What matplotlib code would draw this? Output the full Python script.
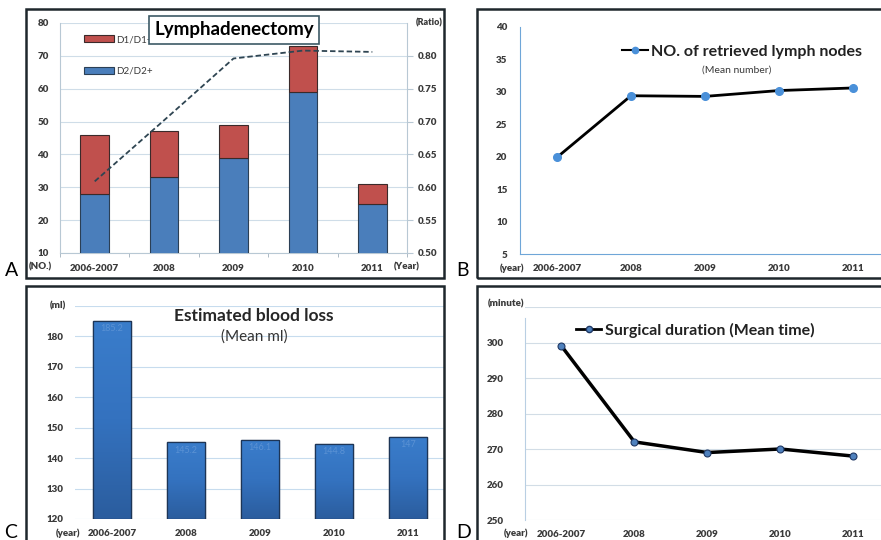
import numpy as np
import matplotlib
matplotlib.use("Agg")
import matplotlib.pyplot as plt
from matplotlib.patches import Rectangle, Patch
from matplotlib.lines import Line2D

plt.rcParams['font.family'] = ['Lato', 'DejaVu Sans']

# data
years = ["2006-2007", "2008", "2009", "2010", "2011"]
d2 = [28, 33, 39, 59, 25]          # D2/D2+ cases
d1 = [18, 14, 10, 14, 6]           # D1/D1+ cases
ratio = [0.609, 0.702, 0.796, 0.808, 0.806]
lymph_nodes = [19.9, 29.4, 29.3, 30.2, 30.6]
blood_loss = [185.2, 145.2, 146.1, 144.8, 147]
blood_labels = ["185.2", "145.2", "146.1", "144.8", "147"]
duration = [299, 272, 269, 270, 268]

W, H = 881, 540
fig = plt.figure(figsize=(W / 100, H / 100), dpi=100)
fig.patch.set_facecolor('white')

TXT = '#3a3a3a'
GRID = '#cfdde8'
AXBLUE = '#6fa6d8'
TS = 7


def rect(x0, y0, x1, y1):
    return [x0 / W, 1 - y1 / H, (x1 - x0) / W, (y1 - y0) / H]


def ftext(x, y, s, **kw):
    fig.text(x / W, 1 - y / H, s, **kw)


def frame(x0, y0, x1, y1):
    fig.add_artist(Rectangle((x0 / W, 1 - y1 / H), (x1 - x0) / W, (y1 - y0) / H,
                             transform=fig.transFigure, fill=False, lw=1.8,
                             ec='#1e272c', zorder=10))


def bold_ticks(ax, size=TS):
    ax.tick_params(labelsize=size, labelcolor=TXT)
    for t in ax.get_xticklabels() + ax.get_yticklabels():
        t.set_fontweight('heavy')


frame(26, 9, 444, 278)
frame(477, 9, 900, 278)
frame(26, 286, 444, 560)
frame(477, 286, 900, 560)

x = np.arange(len(years))

# ---------------- A: lymphadenectomy ----------------
a = fig.add_axes(rect(60, 23, 407, 253))
a.set_facecolor('none')
a.bar(x, d2, width=0.41, color='#4a7ebb', edgecolor='#2b3f55', lw=0.8, zorder=3)
a.bar(x, d1, width=0.41, bottom=d2, color='#c0504d', edgecolor='#3a2a2a', lw=0.8, zorder=3)
a.set_ylim(10, 80)
a.set_xlim(-0.5, 4.5)
a.set_yticks(range(10, 81, 10))
a.yaxis.grid(True, color=GRID, lw=0.8, zorder=0)
a.set_xticks(x)
a.set_xticklabels(years)
a.set_xticks(np.arange(-0.5, 5, 1), minor=True)
a.tick_params(axis='x', which='major', length=0, pad=8)
a.tick_params(axis='x', which='minor', length=3, color='#a0b0bc')
a.tick_params(axis='y', length=0, pad=8)
for s in ['top', 'right']:
    a.spines[s].set_visible(False)
a.spines['left'].set_color('#b8c8d4')
a.spines['bottom'].set_color('#b8c8d4')
bold_ticks(a)
a.legend(handles=[Patch(fc='#c0504d', ec='#3a2a2a', lw=0.8, label='D1/D1+'),
                  Patch(fc='#4a7ebb', ec='#2b3f55', lw=0.8, label='D2/D2+')],
         loc='upper left', bbox_to_anchor=(0.045, 0.985), frameon=False,
         fontsize=7, handlelength=3.0, handleheight=0.7, labelspacing=2.3,
         handletextpad=0.3, labelcolor=TXT)
a2 = a.twinx()
a2.plot(x, ratio, ls='--', color='#2f4552', lw=1.3, dashes=(3, 1.6), zorder=5)
a2.set_ylim(0.50, 0.85)
a2.set_yticks(np.arange(0.50, 0.801, 0.05))
a2.set_yticklabels(["%.2f" % v for v in np.arange(0.50, 0.801, 0.05)])
a2.tick_params(axis='y', length=4, color='#b8c8d4', pad=4)
for s in ['top', 'left', 'bottom']:
    a2.spines[s].set_visible(False)
a2.spines['right'].set_color('#b8c8d4')
bold_ticks(a2)
ftext(234, 30, "Lymphadenectomy", fontsize=13.5, fontweight='bold', ha='center', va='center',
      color='black', bbox=dict(boxstyle='square,pad=0.3', fc='white', ec='#3d5a66', lw=1.2), zorder=6)
ftext(29, 267, "(NO.)", fontsize=TS, fontweight='heavy', color=TXT, va='center')
ftext(394, 267, "(Year)", fontsize=TS, fontweight='heavy', color=TXT, va='center')
ftext(416, 23, "(Ratio)", fontsize=6.5, fontweight='heavy', color=TXT, va='center')
ftext(5, 276, "A", fontsize=14, color='black', va='baseline')

# ---------------- B: retrieved lymph nodes ----------------
b = fig.add_axes(rect(520, 27, 881, 254))
b.set_facecolor('none')
b.plot(x, lymph_nodes, color='black', lw=2, marker='o', ms=5.5, mfc='#4a90d9', mec='#4a90d9',
       zorder=3)
b.set_ylim(5, 40)
b.set_xlim(-0.5, 4.38)
b.set_yticks(range(5, 41, 5))
b.set_xticks(x)
b.set_xticklabels(years)
b.tick_params(length=0)
b.tick_params(axis='x', pad=7)
b.tick_params(axis='y', pad=9)
for s in ['top', 'right']:
    b.spines[s].set_visible(False)
b.spines['left'].set_color(AXBLUE)
b.spines['bottom'].set_color(AXBLUE)
bold_ticks(b)
b.legend(handles=[Line2D([], [], color='black', lw=1.5, marker='o', ms=4.5, mfc='#4a90d9',
                         mec='#4a90d9', label='NO. of retrieved lymph nodes')],
         loc='center', bbox_to_anchor=((742 - 520) / 361, 1 - (52 - 27) / 227), frameon=False,
         prop=dict(size=11.5, weight='bold'), handlelength=1.6, handletextpad=0.2,
         labelcolor='#222222')
ftext(737, 70, "(Mean number)", fontsize=7.5, color=TXT, ha='center', va='center')
ftext(500, 268, "(year)", fontsize=TS, fontweight='heavy', color=TXT, va='center')
ftext(456, 276, "B", fontsize=14, color='black', va='baseline')

# ---------------- C: blood loss ----------------
c = fig.add_axes(rect(75, 306, 444, 519))
c.set_facecolor('none')
bars = c.bar(x, np.array(blood_loss) - 120, bottom=120, width=0.51, color='#2f6cb5',
             edgecolor='#1d3556', lw=0.9, zorder=3)
grad = np.linspace(0, 1, 100).reshape(-1, 1)
cmap = matplotlib.colors.LinearSegmentedColormap.from_list('g', ['#2b5d9e', '#3472bf', '#3a7dcb'])
for bar in bars:
    bx, by = bar.get_x(), bar.get_y()
    im = c.imshow(grad, cmap=cmap, aspect='auto', origin='lower', zorder=3.5,
                  extent=(bx, bx + bar.get_width(), by, by + bar.get_height()))
    im.set_clip_path(bar)
for bar in bars:
    r = Rectangle((bar.get_x(), bar.get_y()), bar.get_width(), bar.get_height(),
                  fill=False, ec='#1d3556', lw=0.9, zorder=4)
    c.add_patch(r)
for xi, v, lab in zip(x, blood_loss, blood_labels):
    c.text(xi, v - 1.2, lab, ha='center', va='top', fontsize=6.5, color='#5b92d4', zorder=5)
c.set_ylim(120, 190)
c.set_xlim(-0.5, 4.49)
c.set_yticks(range(120, 191, 10))
c.set_yticklabels([str(v) for v in range(120, 190, 10)] + [""])
c.yaxis.grid(True, color='#c7dcee', lw=0.8, zorder=0)
c.set_xticks(x)
c.set_xticklabels(years)
c.tick_params(length=0)
c.tick_params(axis='x', pad=7)
c.tick_params(axis='y', pad=8)
for s in c.spines.values():
    s.set_visible(False)
bold_ticks(c)
ftext(50, 306, "(ml)", fontsize=TS, fontweight='heavy', color=TXT, va='center')
ftext(254, 316, "Estimated blood loss", fontsize=12.5, fontweight='bold', color='#262626',
      ha='center', va='center')
ftext(254, 337, "(Mean ml)", fontsize=11, color='#333333', ha='center', va='center')
ftext(56, 533, "(year)", fontsize=TS, fontweight='heavy', color=TXT, va='center')
ftext(4, 538, "C", fontsize=14, color='black', va='baseline')

# ---------------- D: surgical duration ----------------
d = fig.add_axes(rect(525, 307, 881, 520))
d.set_facecolor('none')
d.plot(x, duration, color='black', lw=2.5, marker='o', ms=5, mfc='#4f81bd', mec='#1f3864',
       mew=0.8, zorder=3)
d.set_ylim(250, 310)
d.set_xlim(-0.5, 4.38)
d.set_yticks(range(250, 311, 10))
d.set_yticklabels([str(v) for v in range(250, 310, 10)] + [""])
d.yaxis.grid(True, color='#d2dde6', lw=0.8, zorder=0)
d.set_xticks(x)
d.set_xticklabels(years)
d.tick_params(length=0)
d.tick_params(axis='x', pad=7)
d.tick_params(axis='y', pad=15)
for s in ['top', 'right', 'bottom']:
    d.spines[s].set_visible(False)
d.spines['left'].set_color('#b9cfe3')
d.spines['left'].set_bounds(250, 307)
bold_ticks(d)
d.legend(handles=[Line2D([], [], color='black', lw=2, marker='o', ms=4.5, mfc='#4f81bd',
                         mec='#1f3864', label='Surgical duration (Mean time)')],
         loc='center', bbox_to_anchor=((695 - 525) / 356, 1 - (330 - 307) / 213), frameon=False,
         prop=dict(size=11.5, weight='bold'), handlelength=1.6, handletextpad=0.2,
         labelcolor='#222222')
ftext(488, 304, "(minute)", fontsize=TS, fontweight='heavy', color=TXT, va='center')
ftext(504, 533, "(year)", fontsize=TS, fontweight='heavy', color=TXT, va='center')
ftext(456, 538, "D", fontsize=14, color='black', va='baseline')

fig.savefig("out.png", dpi=100)
